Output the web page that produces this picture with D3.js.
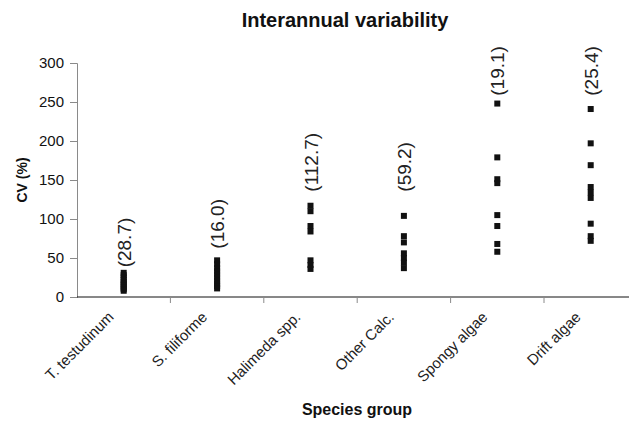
<!DOCTYPE html>
<html>
<head>
<meta charset="utf-8">
<script src="https://cdn.jsdelivr.net/npm/d3@7"></script>
<style>
  body { margin: 0; background: #fff; }
  svg { font-family: Arial, "Liberation Sans", sans-serif; }
</style>
</head>
<body>
<div id="wrapper"></div>
<script>
// categories and CV values
const groups = ["T. testudinum", "S. filiforme", "Halimeda spp.", "Other Calc.", "Spongy algae", "Drift algae"];
const tTestudinum = [31, 28, 25, 22, 19, 17, 15, 12, 10, 8];
const sFiliforme = [47, 42, 37, 33, 29, 25, 21, 17, 14, 11];
const halimeda = [117, 110, 91, 84, 47, 41, 36];
const otherCalc = [104, 78, 70, 56, 50, 44, 37];
const spongy = [248, 179, 151, 146, 105, 91, 68, 58];
const drift = [241, 197, 169, 141, 134, 127, 94, 78, 72];
const seriesValues = [tTestudinum, sFiliforme, halimeda, otherCalc, spongy, drift];
// bracketed labels and the CV value where each one starts
const bracketLabels = ["(28.7)", "(16.0)", "(112.7)", "(59.2)", "(19.1)", "(25.4)"];
const bracketBase = [38, 62, 135, 135, 258, 258];
const yTicks = [0, 50, 100, 150, 200, 250, 300];

const dimensions = {
    width: 629,
    height: 421,
    margins: { top: 63, left: 77, bottom: 124 }
}
dimensions.boundedHeight = dimensions.height - dimensions.margins.top - dimensions.margins.bottom

const svg = d3.select("#wrapper")
    .append("svg")
        .attr("width", dimensions.width)
        .attr("height", dimensions.height)

// scales
const xScale = d3.scaleBand()
    .domain(groups)
    .range([dimensions.margins.left, dimensions.margins.left + 6 * 93.4])
const yScale = d3.scaleLinear()
    .domain([0, 300])
    .range([dimensions.margins.top + dimensions.boundedHeight, dimensions.margins.top])

// y axis
const yAxis = svg.append("g")
    .attr("transform", `translate(${dimensions.margins.left},0)`)
    .call(d3.axisLeft(yScale).tickValues(yTicks).tickSize(7).tickPadding(6))
yAxis.select(".domain").attr("stroke", "#8a8a8a")
yAxis.selectAll(".tick line").attr("stroke", "#8a8a8a")
yAxis.selectAll(".tick text")
    .attr("font-size", 15)
    .attr("fill", "#111")
    .attr("font-family", "Arial, 'Liberation Sans', sans-serif")

// x axis: ticks sit at category boundaries
const boundaries = groups.map(g => xScale(g)).slice(1)
const xAxisY = yScale(0)
svg.append("line")
    .attr("x1", dimensions.margins.left)
    .attr("x2", dimensions.width)
    .attr("y1", xAxisY)
    .attr("y2", xAxisY)
    .attr("stroke", "#111")
    .attr("stroke-width", 1)
svg.selectAll(".xtick")
    .data(boundaries)
    .join("line")
        .attr("class", "xtick")
        .attr("x1", d => d)
        .attr("x2", d => d)
        .attr("y1", xAxisY)
        .attr("y2", xAxisY + 6)
        .attr("stroke", "#8a8a8a")

svg.selectAll(".xlabel")
    .data(groups)
    .join("text")
        .attr("class", "xlabel")
        .attr("transform", d => `translate(${xScale(d) + xScale.bandwidth() / 2 - 9},${xAxisY + 21}) rotate(-45)`)
        .attr("text-anchor", "end")
        .attr("font-size", 15)
        .attr("fill", "#222")
        .text(d => d)

// points
const points = groups.flatMap((g, i) => seriesValues[i].map(v => ({ group: g, value: v })))
const size = 6
svg.selectAll(".pt")
    .data(points)
    .join("rect")
        .attr("class", "pt")
        .attr("x", d => xScale(d.group) + xScale.bandwidth() / 2 - size / 2)
        .attr("y", d => yScale(d.value) - size / 2)
        .attr("width", size)
        .attr("height", size)
        .attr("fill", "#111")

// bracket labels
svg.selectAll(".blabel")
    .data(groups)
    .join("text")
        .attr("class", "blabel")
        .attr("transform", (d, i) => `translate(${xScale(d) + xScale.bandwidth() / 2 + 7},${yScale(bracketBase[i])}) rotate(-90)`)
        .attr("font-size", 19)
        .attr("fill", "#222")
        .text((d, i) => bracketLabels[i])

// titles
svg.append("text")
    .attr("x", 345)
    .attr("y", 27)
    .attr("text-anchor", "middle")
    .attr("font-size", 20)
    .attr("font-weight", "bold")
    .attr("fill", "#111")
    .text("Interannual variability")

svg.append("text")
    .attr("transform", `translate(27,${yScale(150)}) rotate(-90)`)
    .attr("text-anchor", "middle")
    .attr("font-size", 14)
    .attr("font-weight", "bold")
    .attr("fill", "#111")
    .text("CV (%)")

svg.append("text")
    .attr("x", 357)
    .attr("y", 415)
    .attr("text-anchor", "middle")
    .attr("font-size", 16)
    .attr("font-weight", "bold")
    .attr("fill", "#111")
    .text("Species group")
</script>
</body>
</html>
